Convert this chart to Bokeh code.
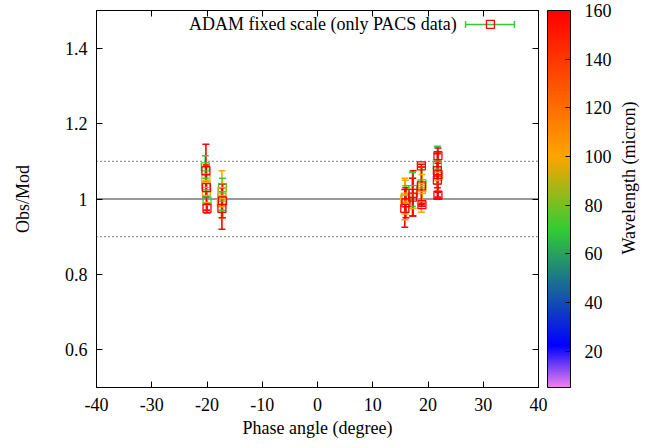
import math
import numpy as np
import pandas as pd
from bokeh.plotting import figure
from bokeh.layouts import row
from bokeh.models import (ColumnDataSource, LinearColorMapper, ColorBar, FixedTicker,
                          CustomJSTickFormatter, Span, Label, LinearAxis, Range1d)
from bokeh.transform import transform
from bokeh.embed import file_html
from bokeh.resources import INLINE

# ---------------- data ----------------
phase = [-20.2, -20.1, -20.0, -20.2, -20.1, -20.3, -20.2, -20.0,
         -17.3, -17.2, -17.3, -17.4, -17.3, -17.2,
         15.8, 16.0, 15.9, 15.8, 16.0,
         17.2, 17.3, 17.3, 17.2,
         18.8, 18.9, 18.8, 18.9, 18.8, 18.9,
         21.8, 21.7, 21.7, 21.8, 21.7, 21.8, 21.8]
ratio = [1.075, 1.030, 0.975, 1.055, 1.020, 1.085, 1.035, 0.995,
         0.975, 0.995, 1.020, 0.990, 1.005, 1.030,
         0.975, 0.990, 1.005, 1.000, 1.000,
         1.005, 1.015, 1.015, 1.025,
         1.035, 1.030, 1.025, 1.040, 1.088, 0.985,
         1.115, 1.090, 1.075, 1.060, 1.050, 1.010, 1.065]
error = [0.070, 0.060, 0.012, 0.035, 0.030, 0.030, 0.030, 0.025,
         0.055, 0.045, 0.055, 0.040, 0.035, 0.025,
         0.050, 0.040, 0.045, 0.055, 0.035,
         0.050, 0.060, 0.040, 0.045,
         0.050, 0.035, 0.060, 0.045, 0.004, 0.004,
         0.020, 0.050, 0.045, 0.040, 0.050, 0.008, 0.060]
wavelength = [160, 160, 160, 100, 100, 70, 70, 70,
              160, 160, 100, 100, 70, 70,
              160, 160, 100, 100, 70,
              160, 160, 100, 70,
              160, 100, 100, 70, 160, 160,
              160, 70, 160, 100, 160, 160, 160]

x_ticks = [-40, -30, -20, -10, 0, 10, 20, 30, 40]
y_ticks = [0.6, 0.8, 1.0, 1.2, 1.4]
cb_ticks = [20, 40, 60, 80, 100, 120, 140, 160]
ref_level = 1.0
band_levels = [0.9, 1.1]
legend_label = "ADAM fixed scale (only PACS data)"
cb_title = "Wavelength (micron)"
cb_low, cb_high = 5, 160

# ---------------- style constants ----------------
FONT = "Liberation Serif"
FS = "18px"
stops = [(5, (238, 130, 238)), (22, (0, 0, 255)), (70, (50, 205, 50)),
         (100, (255, 165, 0)), (160, (255, 0, 0))]


def build_palette(n=256):
    vals = np.linspace(cb_low, cb_high, n)
    xs = [s[0] for s in stops]
    out = []
    for v in vals:
        rgb = [int(round(np.interp(v, xs, [s[1][k] for s in stops]))) for k in range(3)]
        out.append('#%02x%02x%02x' % tuple(rgb))
    return out


palette = build_palette()
mapper = LinearColorMapper(palette=palette, low=cb_low, high=cb_high)

df = pd.DataFrame(dict(phase=phase, ratio=ratio, error=error, wl=wavelength))
df = df.sort_values("wl", kind="stable").reset_index(drop=True)
df["lo"] = df["ratio"] - df["error"]
df["hi"] = df["ratio"] + df["error"]
src = ColumnDataSource(df)

PAGE_W, PAGE_H = 656, 448
MAIN_W = 616
MB_L, MB_T, MB_B = 96, 10, 61
MB_R = MAIN_W - MB_L - 442
frame_h = PAGE_H - MB_T - MB_B

p = figure(width=MAIN_W, height=PAGE_H, x_range=Range1d(-40, 40), y_range=Range1d(0.5, 1.5),
           output_backend="svg", toolbar_location=None,
           min_border_left=MB_L, min_border_right=MB_R,
           min_border_top=MB_T, min_border_bottom=MB_B,
           x_axis_label="Phase angle (degree)", y_axis_label="Obs/Mod")
p.grid.visible = False
p.outline_line_color = "black"
p.outline_line_width = 1
p.background_fill_color = "white"
p.border_fill_color = "white"

fmt_y = CustomJSTickFormatter(code="return String(Math.round(tick*10)/10)")
fmt_x = CustomJSTickFormatter(code="return String(tick)")
fmt_none = CustomJSTickFormatter(code="return ''")

for ax, tk, fm in ((p.xaxis[0], x_ticks, fmt_x), (p.yaxis[0], y_ticks, fmt_y)):
    ax.ticker = FixedTicker(ticks=tk)
    ax.formatter = fm
    ax.major_tick_in = 6
    ax.major_tick_out = 0
    ax.minor_tick_in = 0
    ax.minor_tick_out = 0
    ax.axis_line_color = "black"
    ax.major_tick_line_color = "black"
    ax.major_label_text_font = FONT
    ax.major_label_text_font_size = FS
    ax.major_label_text_color = "black"
    ax.axis_label_text_font = FONT
    ax.axis_label_text_font_size = FS
    ax.axis_label_text_font_style = "normal"
    ax.axis_label_text_color = "black"

p.xaxis[0].major_label_standoff = 10
p.xaxis[0].axis_label_standoff = 4
p.yaxis[0].major_label_standoff = 9
p.yaxis[0].axis_label_standoff = 29

# mirrored tick marks (no labels)
top_ax = LinearAxis(ticker=FixedTicker(ticks=x_ticks), formatter=fmt_none,
                    major_label_text_font_size="1px",
                    major_tick_in=6, major_tick_out=0, minor_tick_in=0, minor_tick_out=0,
                    major_label_standoff=0, axis_line_color="black")
right_ax = LinearAxis(ticker=FixedTicker(ticks=y_ticks), formatter=fmt_none,
                      major_label_text_font_size="1px",
                      major_tick_in=6, major_tick_out=0, minor_tick_in=0, minor_tick_out=0,
                      major_label_standoff=0, axis_line_color="black")
p.add_layout(top_ax, "above")
p.add_layout(right_ax, "right")

# reference lines
p.add_layout(Span(location=ref_level, dimension="width", line_color="#333333",
                  line_width=1.2, level="underlay"))
for lv in band_levels:
    p.add_layout(Span(location=lv, dimension="width", line_color="black",
                      line_width=1, line_dash="1 3", level="underlay"))

cmap = transform("wl", mapper)
p.segment(x0="phase", y0="lo", x1="phase", y1="hi", line_color=cmap, line_width=1.6, source=src)
p.scatter("phase", "lo", marker="dash", size=7, line_color=cmap, line_width=1.5, source=src)
p.scatter("phase", "hi", marker="dash", size=7, line_color=cmap, line_width=1.5, source=src)
p.scatter("phase", "ratio", marker="square", size=8, fill_color=None, line_color=cmap,
          line_width=1.3, source=src)

# legend (gnuplot style: text, then sample)
LEG_Y = 1.463
LEG_X0, LEG_X1, LEG_XM, LEG_TX = 26.8, 35.65, 31.3, 25.2
green = palette[int((70 - cb_low) / (cb_high - cb_low) * 255)]
red = palette[-1]
p.segment(x0=[LEG_X0], y0=[LEG_Y], x1=[LEG_X1], y1=[LEG_Y], line_color=green, line_width=1.5)
p.scatter([LEG_X0, LEG_X1], [LEG_Y, LEG_Y], marker="dash", angle=math.pi / 2, size=7,
          line_color=green, line_width=1.5)
p.scatter([LEG_XM], [LEG_Y], marker="square", size=8, fill_color=None, line_color=red,
          line_width=1.3)
p.add_layout(Label(x=LEG_TX, y=LEG_Y, text=legend_label, text_align="right",
                   text_baseline="middle", text_font=FONT, text_font_size="18px",
                   text_color="black"))

# colour bar
cb = ColorBar(color_mapper=mapper, ticker=FixedTicker(ticks=cb_ticks),
              formatter=CustomJSTickFormatter(code="return String(tick)"),
              width=23, height=frame_h, location=(9, 0), padding=0, margin=0,
              major_tick_in=5, major_tick_out=0, major_tick_line_color="black",
              minor_tick_line_color=None, bar_line_color="black", bar_line_width=1,
              label_standoff=14, major_label_text_font=FONT, major_label_text_font_size=FS,
              major_label_text_color="black",
              background_fill_color=None, border_line_color=None)
p.add_layout(cb, "right")

# colour-bar title in a narrow companion figure (reads bottom-to-top)
p2 = figure(width=PAGE_W - MAIN_W, height=PAGE_H, x_range=Range1d(MAIN_W, PAGE_W),
            y_range=Range1d(PAGE_H, 0), output_backend="svg", toolbar_location=None,
            min_border=0, outline_line_color=None)
p2.axis.visible = False
p2.grid.visible = False
p2.background_fill_color = "white"
p2.border_fill_color = "white"
p2.add_layout(Label(x=628, y=199, text=cb_title, angle=math.pi / 2, text_align="center",
                    text_baseline="middle", text_font=FONT, text_font_size=FS,
                    text_color="black"))

layout = row(p, p2, spacing=0)
open("out.html", "w").write(file_html(layout, INLINE))
